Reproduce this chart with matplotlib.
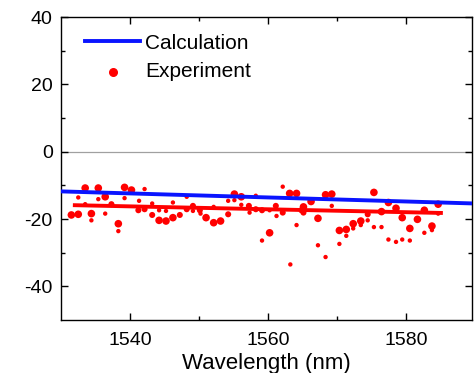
import matplotlib.pyplot as plt
import numpy as np

plt.rcParams['font.family'] = ['Liberation Sans', 'DejaVu Sans']
plt.rcParams['axes.unicode_minus'] = False

# calculation line (endpoints)
calc_wl = [1530, 1590]
calc_val = [-11.8, -15.4]

# experimental fit line
fit_wl = [1532, 1585]
fit_val = [-15.9, -18.2]

# measured points: wavelength, value, weight class (1 small, 2 medium, 3 large)
exp_wl = [1531.5, 1532.5, 1532.5, 1533.5, 1533.5, 1534.4, 1534.4, 1535.4, 1535.4, 1536.4,
          1536.4, 1537.3, 1538.3, 1538.3, 1539.2, 1539.2, 1540.2, 1541.2, 1541.3, 1542.1,
          1542.1, 1543.2, 1543.2, 1544.2, 1544.2, 1545.2, 1545.2, 1546.2, 1546.2, 1547.2,
          1548.2, 1548.2, 1549.1, 1549.1, 1550.1, 1550.2, 1551.0, 1552.1, 1552.1, 1553.1,
          1554.2, 1554.2, 1555.1, 1555.1, 1556.1, 1556.1, 1557.2, 1557.3, 1558.2, 1558.2,
          1559.1, 1559.1, 1560.2, 1560.2, 1561.1, 1561.2, 1562.1, 1562.1, 1563.1, 1563.2,
          1564.1, 1564.1, 1564.8, 1565.1, 1565.1, 1566.2, 1567.2, 1567.2, 1568.3, 1568.3,
          1569.2, 1569.2, 1570.3, 1570.3, 1571.3, 1571.3, 1572.3, 1572.3, 1573.4, 1573.4,
          1574.4, 1574.4, 1575.3, 1575.3, 1576.4, 1576.4, 1577.4, 1577.4, 1578.5, 1578.5,
          1579.4, 1579.4, 1580.5, 1580.5, 1581.6, 1582.6, 1582.6, 1583.7, 1583.7, 1584.6,
          1584.6]
exp_val = [-18.8, -18.6, -13.6, -10.8, -15.6, -18.4, -20.4, -10.8, -14.1, -13.4,
           -18.4, -15.6, -21.4, -23.6, -10.6, -13.8, -11.4, -17.4, -14.6, -11.1,
           -17.1, -15.4, -18.8, -20.4, -17.4, -20.6, -17.6, -15.1, -19.6, -18.8,
           -13.4, -17.1, -16.1, -17.6, -17.4, -18.4, -19.6, -16.4, -21.1, -20.6,
           -14.6, -18.6, -12.6, -14.4, -13.4, -15.8, -16.1, -18.1, -13.1, -17.1,
           -17.4, -26.4, -24.1, -17.4, -16.1, -19.1, -10.4, -18.1, -12.4, -33.5,
           -12.4, -21.8, -17.4, -16.4, -18.1, -14.8, -19.8, -27.8, -12.8, -31.3,
           -12.6, -16.1, -23.4, -27.4, -23.1, -25.0, -21.4, -22.8, -20.6, -21.8,
           -18.6, -20.4, -12.1, -22.4, -17.8, -22.4, -15.1, -26.1, -16.8, -26.8,
           -19.6, -26.1, -22.8, -26.4, -20.1, -17.4, -24.1, -22.1, -23.3, -15.6,
           -18.4]
exp_w = [3, 3, 1, 3, 1, 3, 1, 3, 1, 3,
         1, 2, 3, 1, 3, 1, 3, 2, 1, 1,
         2, 1, 2, 3, 1, 3, 1, 1, 3, 2,
         1, 2, 2, 1, 2, 1, 3, 1, 3, 3,
         1, 2, 3, 1, 3, 1, 2, 1, 1, 2,
         2, 1, 3, 1, 2, 1, 1, 2, 3, 1,
         3, 1, 2, 3, 2, 3, 3, 1, 3, 1,
         3, 1, 3, 1, 3, 1, 3, 1, 3, 1,
         2, 1, 3, 1, 3, 1, 3, 1, 3, 1,
         3, 1, 3, 1, 3, 3, 1, 3, 1, 3,
         1]

size_map = {1: 10, 2: 19, 3: 30}

fig = plt.figure(figsize=(4.76, 3.73), dpi=100)
ax = fig.add_axes([61 / 476, 1 - 320 / 373, 411 / 476, 303 / 373])

ax.axhline(0, color='#a0a0a0', lw=0.9, zorder=1)
ax.plot(calc_wl, calc_val, color='#0a14ff', lw=2.8, zorder=3, label='Calculation')
ax.plot(fit_wl, fit_val, color='#ff0000', lw=2.8, zorder=2)
ax.scatter(exp_wl, exp_val, s=[size_map[w] for w in exp_w], color='#ff0000',
           edgecolors='none', zorder=2)
# legend handle for experiment
ax.scatter([], [], s=30, color='#ff0000', label='Experiment')

ax.set_xlim(1530, 1589.5)
ax.set_ylim(-50, 40)
ax.set_xticks([1540, 1560, 1580])
ax.set_xticks([1550, 1570], minor=True)
ax.set_yticks([-40, -20, 0, 20, 40])
ax.set_yticks([-30, -10, 10, 30], minor=True)
ax.tick_params(which='both', direction='in', top=True, right=True, labelsize=14, width=1)
ax.tick_params(which='major', length=5, pad=6)
ax.tick_params(axis='x', which='major', pad=8.5)
ax.tick_params(which='minor', length=3)
for sp in ax.spines.values():
    sp.set_linewidth(1)
ax.set_xlabel('Wavelength (nm)', fontsize=16, labelpad=3)

ax.legend(loc='upper left', bbox_to_anchor=(24 / 411, 0.945), frameon=False,
          fontsize=15, handlelength=2.65, handletextpad=0.25, labelspacing=0.45,
          borderpad=0, borderaxespad=0, scatterpoints=1)

fig.savefig('out.png', dpi=100)
